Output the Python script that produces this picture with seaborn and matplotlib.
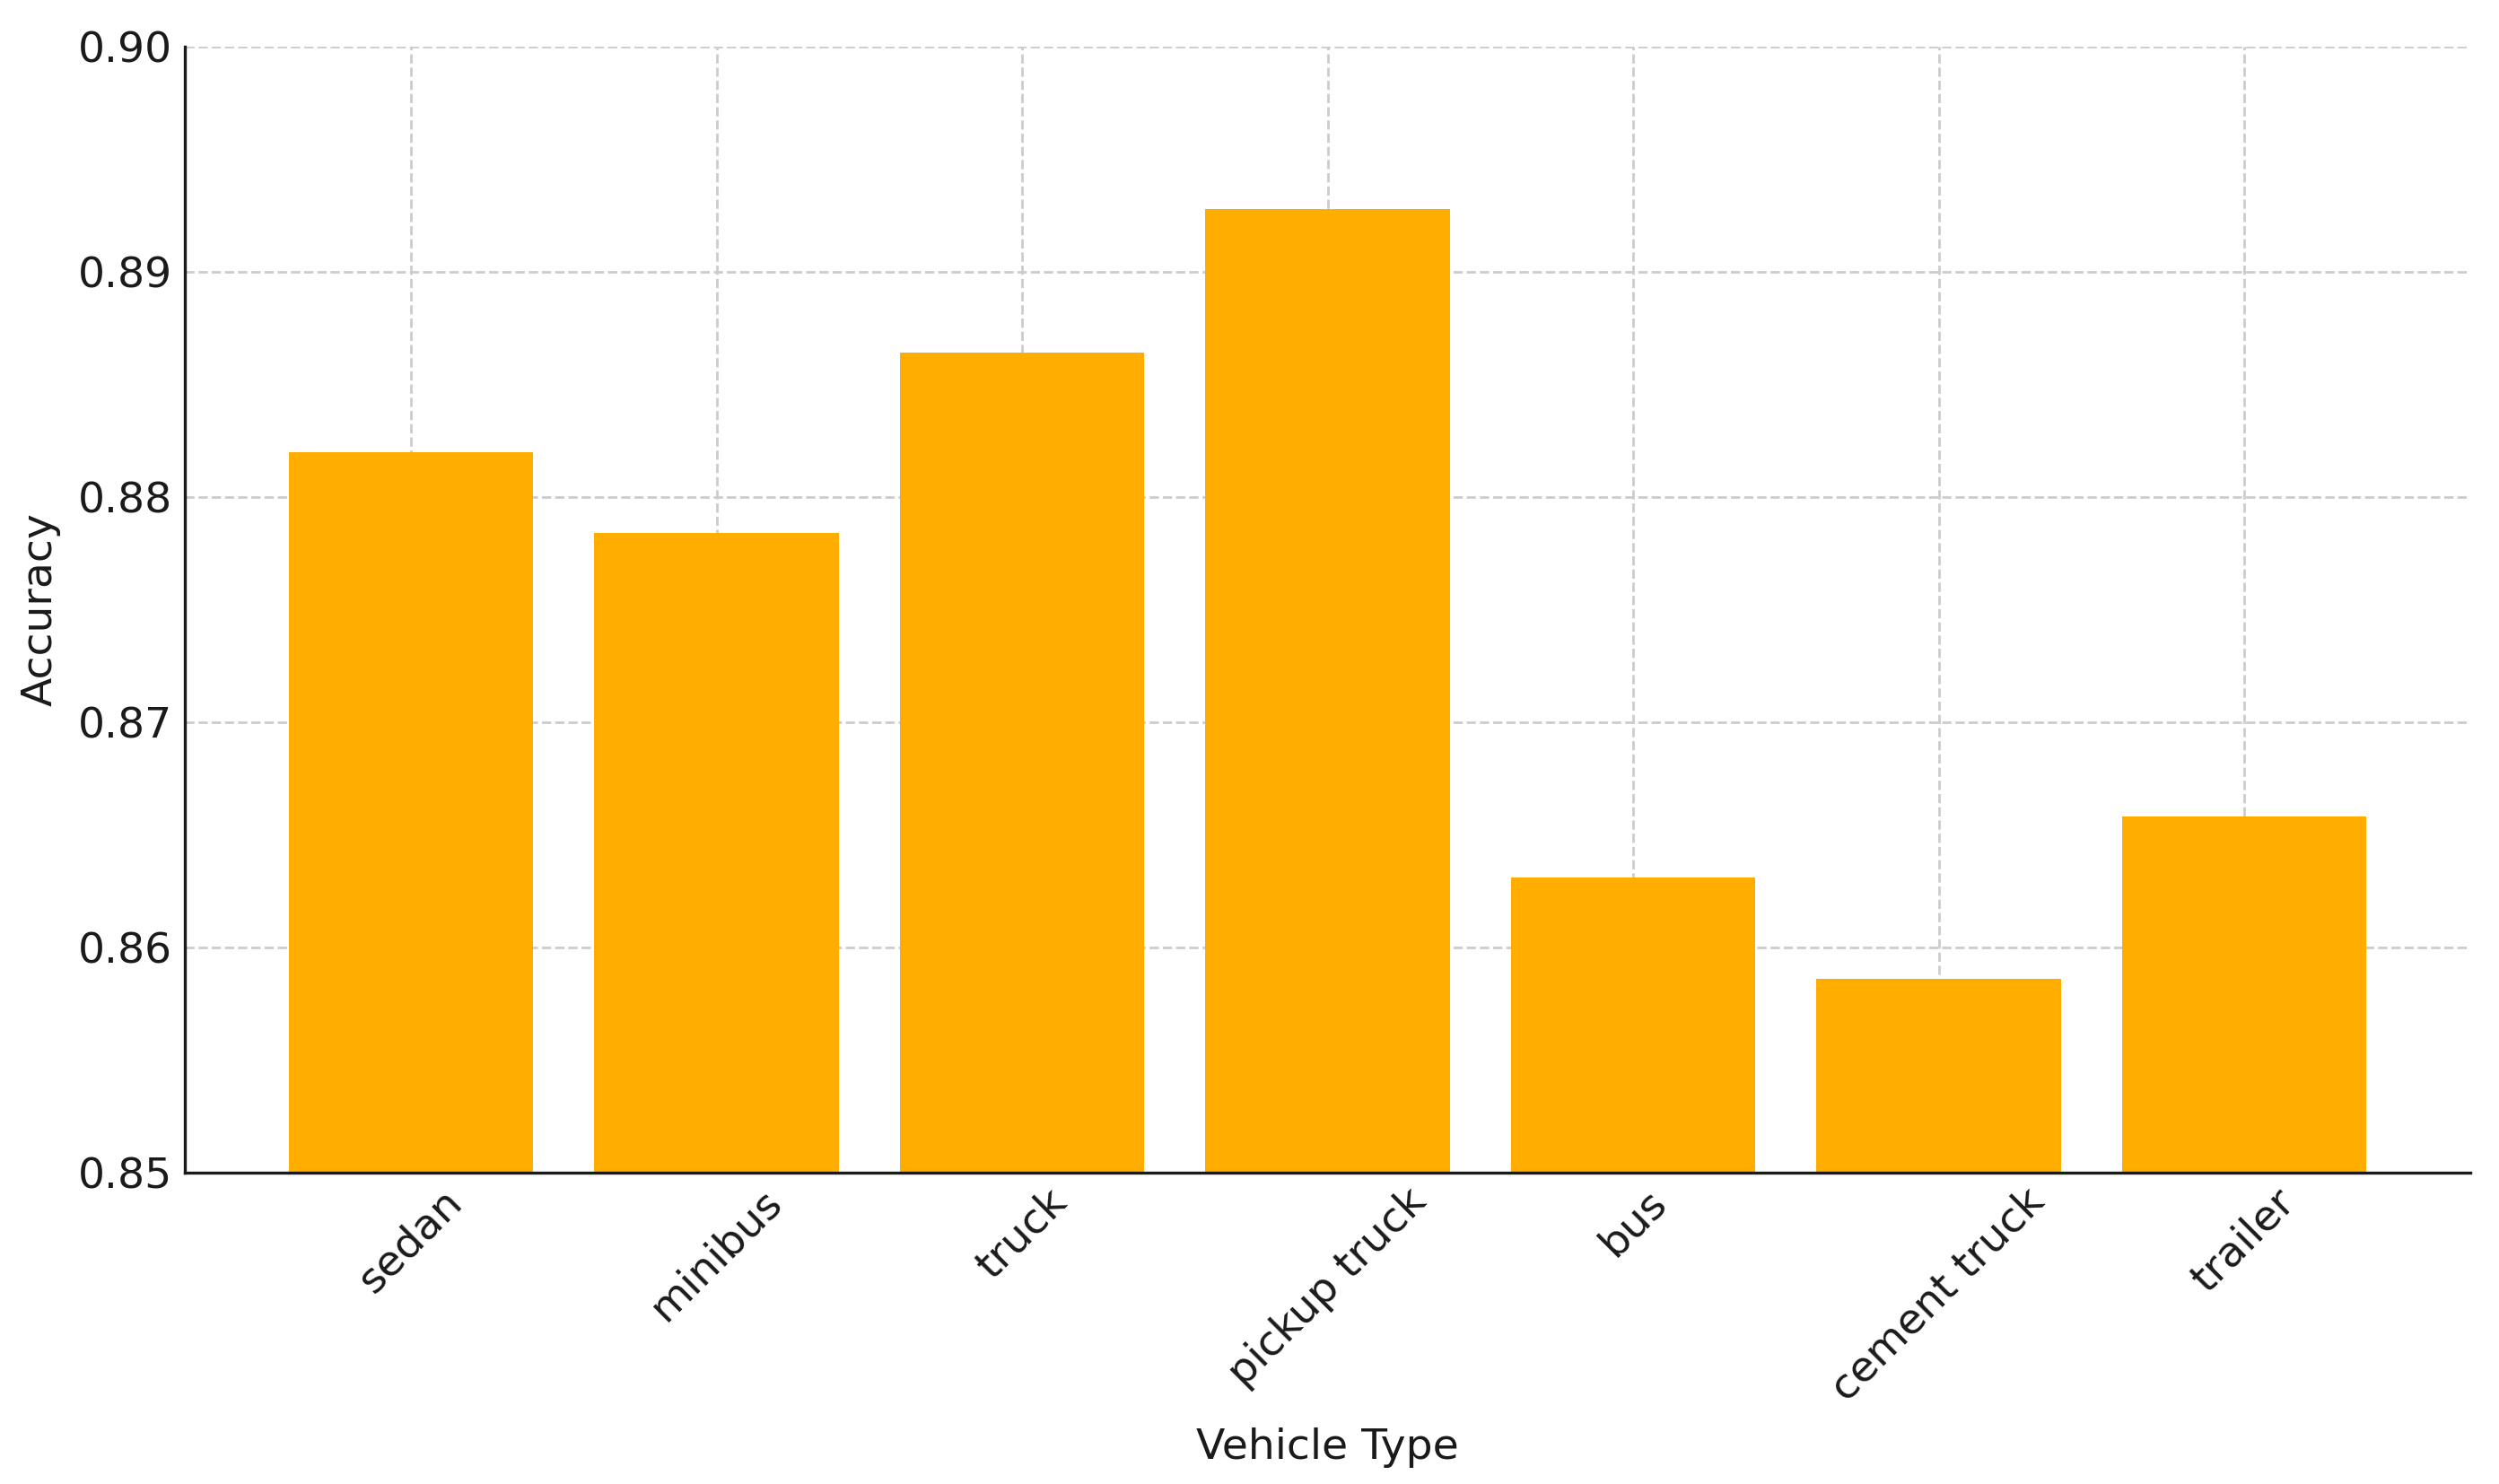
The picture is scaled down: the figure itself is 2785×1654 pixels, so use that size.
import seaborn as sns
import matplotlib.pyplot as plt
import pandas as pd

vehicle_types = ["sedan", "minibus", "truck", "pickup truck", "bus", "cement truck", "trailer"]
accuracy = [0.8820, 0.8784, 0.8864, 0.8928, 0.8631, 0.8586, 0.8658]

df = pd.DataFrame({"Vehicle Type": vehicle_types, "Accuracy": accuracy})

sns.set_style("white")
plt.rcParams['font.family'] = ['DejaVu Sans']
plt.rcParams['text.color'] = '#1a1a1a'
plt.rcParams['axes.labelcolor'] = '#1a1a1a'
plt.rcParams['xtick.color'] = '#1a1a1a'
plt.rcParams['ytick.color'] = '#1a1a1a'

fig, ax = plt.subplots(figsize=(13.925, 8.27), dpi=200)

sns.barplot(data=df, x="Vehicle Type", y="Accuracy", color="#ffae00",
            saturation=1, width=0.8, linewidth=0, ax=ax)

ax.set_ylim(0.85, 0.90)
ax.set_xlim(-0.74, 6.74)
ax.set_yticks([0.85, 0.86, 0.87, 0.88, 0.89, 0.90])
ax.set_yticklabels(["0.85", "0.86", "0.87", "0.88", "0.89", "0.90"])

ax.grid(True, axis='both', linestyle='--', color='#cccccc', linewidth=1)
ax.set_axisbelow(True)

for s in ["top", "right"]:
    ax.spines[s].set_visible(False)
for s in ["left", "bottom"]:
    ax.spines[s].set_color('#1a1a1a')
    ax.spines[s].set_linewidth(1.2)

ax.tick_params(axis='both', direction='in', length=5, width=1, labelsize=17)
ax.tick_params(axis='y', pad=5)
plt.setp(ax.get_xticklabels(), rotation=45)

ax.set_xlabel("Vehicle Type", fontsize=17, labelpad=7)
ax.set_ylabel("Accuracy", fontsize=17, labelpad=7)

fig.subplots_adjust(left=0.074, right=0.9885, top=0.9686, bottom=0.2098)
fig.savefig("out.png", dpi=200)
